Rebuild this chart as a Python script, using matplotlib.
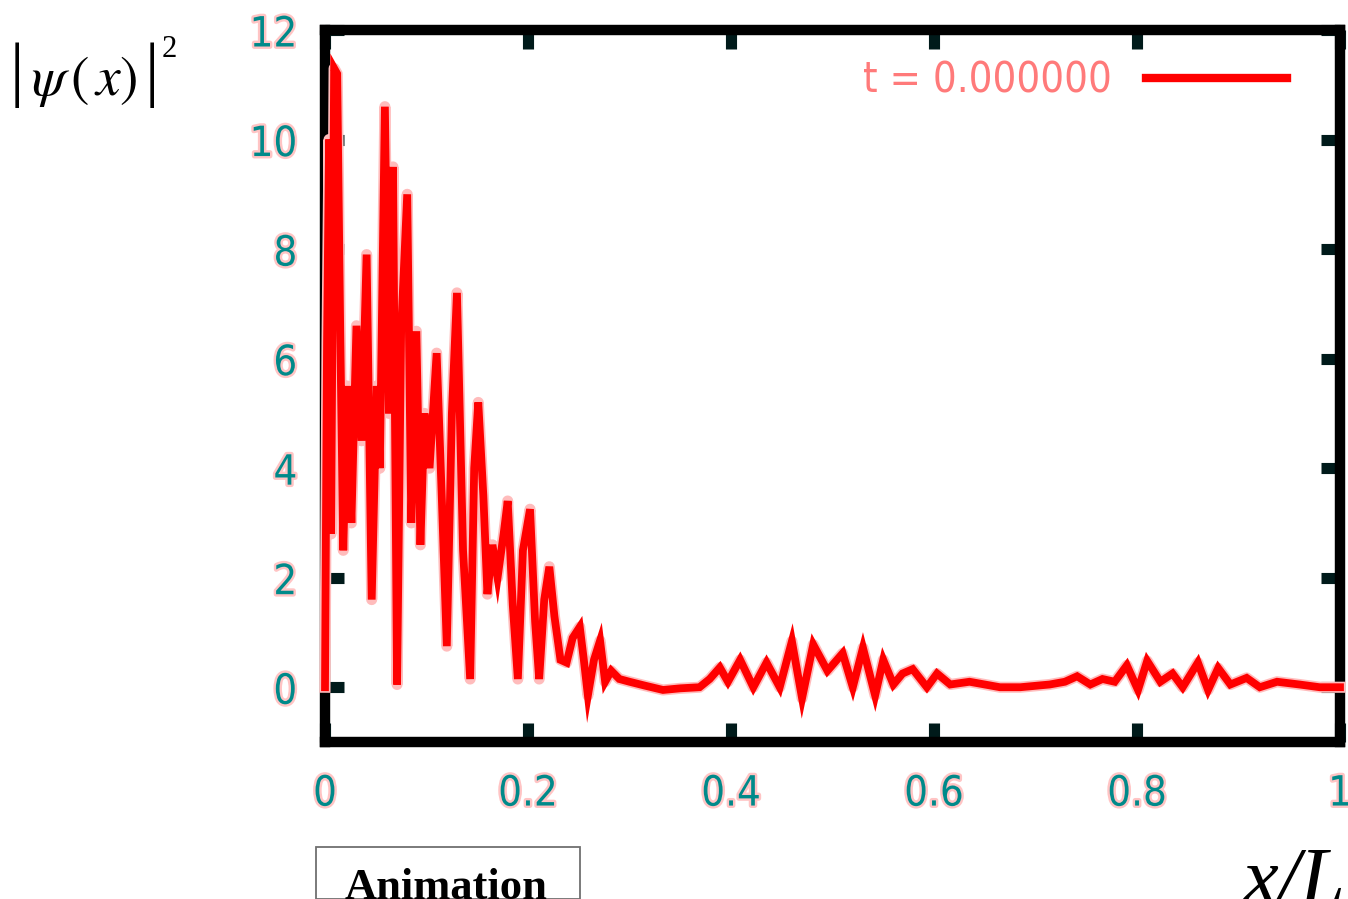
import matplotlib
matplotlib.use("Agg")
import matplotlib.pyplot as plt
import matplotlib.patheffects as pe
from matplotlib.patches import Rectangle

# ---- data ----
x_vals = [0.000, 0.002, 0.004, 0.006, 0.009, 0.012, 0.015, 0.018, 0.022, 0.026,
          0.031, 0.036, 0.041, 0.046, 0.051, 0.054, 0.059, 0.063, 0.067, 0.071,
          0.075, 0.081, 0.085, 0.090, 0.094, 0.098, 0.103, 0.110, 0.115, 0.120,
          0.125, 0.130, 0.136, 0.143, 0.147, 0.151, 0.156, 0.160, 0.165, 0.170,
          0.176, 0.180, 0.185, 0.190, 0.195, 0.202, 0.207, 0.211, 0.216, 0.221,
          0.226, 0.232, 0.238, 0.244, 0.251, 0.255, 0.259, 0.265, 0.271, 0.276,
          0.282, 0.290, 0.300, 0.315, 0.333, 0.350, 0.369, 0.379, 0.389, 0.397,
          0.409, 0.422, 0.435, 0.448, 0.460, 0.470, 0.481, 0.495, 0.510, 0.520,
          0.530, 0.542, 0.550, 0.560, 0.569, 0.579, 0.593, 0.603, 0.616, 0.635,
          0.665, 0.685, 0.714, 0.729, 0.741, 0.754, 0.766, 0.778, 0.790, 0.801,
          0.810, 0.823, 0.835, 0.845, 0.860, 0.870, 0.880, 0.892, 0.908, 0.921,
          0.938, 0.960, 0.980, 1.000]
psi2_vals = [0.0, 6.3, 10.0, 2.8, 11.3, 11.2, 6.5, 2.5, 5.5, 3.0,
             6.6, 4.5, 7.9, 1.6, 5.5, 4.0, 10.6, 5.0, 9.5, 0.05,
             6.5, 9.0, 3.0, 6.5, 2.6, 5.0, 4.0, 6.1, 3.5, 0.75,
             5.0, 7.2, 2.5, 0.15, 4.0, 5.2, 3.5, 1.7, 2.6, 2.0,
             2.8, 3.4, 1.5, 0.15, 2.5, 3.25, 1.2, 0.15, 1.6, 2.2,
             1.3, 0.5, 0.45, 0.9, 1.1, 0.5, -0.15, 0.5, 0.85, 0.1,
             0.3, 0.15, 0.1, 0.03, -0.05, -0.02, 0.0, 0.15, 0.36, 0.1,
             0.5, 0.0, 0.45, 0.0, 0.84, -0.2, 0.78, 0.3, 0.62, 0.0,
             0.72, -0.15, 0.5, 0.05, 0.25, 0.33, 0.0, 0.25, 0.05, 0.1,
             0.0, 0.0, 0.05, 0.1, 0.2, 0.05, 0.15, 0.1, 0.4, -0.05,
             0.48, 0.1, 0.25, 0.0, 0.45, -0.05, 0.35, 0.05, 0.17, 0.0,
             0.1, 0.05, 0.0, 0.0]

x_ticks = [0, 0.2, 0.4, 0.6, 0.8, 1]
x_tick_labels = ["0", "0.2", "0.4", "0.6", "0.8", "1"]
y_ticks = [0, 2, 4, 6, 8, 10, 12]
y_tick_labels = ["0", "2", "4", "6", "8", "10", "12"]
legend_label = "t = 0.000000"

# ---- figure ----
W, H = 1348, 899
fig = plt.figure(figsize=(W / 100, H / 100), dpi=100)
fig.patch.set_facecolor("white")
ax = fig.add_axes([325 / W, 1 - 742 / H, (1340 - 325) / W, (742 - 30) / H])

teal = "#008a8a"
halo = [pe.withStroke(linewidth=3.5, foreground="#ffc4c4")]

line, = ax.plot(x_vals, psi2_vals, color="#ff0000", lw=5.6, zorder=3,
                solid_joinstyle="miter", clip_on=False, label=legend_label,
                path_effects=[pe.Stroke(linewidth=8, foreground="#ffbcbc",
                                        joinstyle="round"),
                              pe.Normal()])

ax.set_xlim(0, 1)
ax.set_ylim(-1, 12)
ax.set_xticks(x_ticks)
ax.set_xticklabels(x_tick_labels)
ax.set_yticks(y_ticks)
ax.set_yticklabels(y_tick_labels)

for s in ax.spines.values():
    s.set_linewidth(7.5)
    s.set_color("#000000")
    s.set_zorder(2.5)

ax.tick_params(axis="both", which="major", direction="in", length=14, width=8,
               color="#001a1a", top=True, right=True, labelsize=30,
               labelcolor=teal)
ax.tick_params(axis="y", pad=20)
ax.tick_params(axis="x", pad=22)
for lab in ax.get_xticklabels() + ax.get_yticklabels():
    lab.set_family(["DejaVu Sans"])
    lab.set_stretch("condensed")
    lab.set_path_effects(halo)

leg = ax.legend(loc="upper right", bbox_to_anchor=(0.948, 0.958), frameon=False,
                markerfirst=False, handlelength=3.4, handletextpad=0.8,
                borderaxespad=0, borderpad=0, fontsize=30, labelcolor="#ff7a7a")
for t in leg.get_texts():
    t.set_family(["DejaVu Sans"])
    t.set_stretch("condensed")
for h in leg.get_lines():
    h.set_linewidth(6)
    h.set_path_effects([])

# ---- annotations around the plot ----
fig.text(10 / W, 1 - 93 / H, "|", fontsize=52, family=["Liberation Serif"],
         ha="left", va="baseline", color="black")
fig.text(31 / W, 1 - 95 / H, r"$\psi\,(\,x)$", fontsize=40,
         math_fontfamily="stix", ha="left", va="baseline", color="black")
fig.text(145 / W, 1 - 93 / H, "|", fontsize=52, family=["Liberation Serif"],
         ha="left", va="baseline", color="black")
fig.text(162 / W, 1 - 57 / H, "2", fontsize=22, family=["Liberation Serif"],
         ha="left", va="baseline", color="black")
fig.text(1243 / W, 1 - 903 / H, "x/L", fontsize=58, family=["Liberation Serif"],
         style="italic", ha="left", va="baseline", color="black")

fig.patches.append(Rectangle((316 / W, 0), (580 - 316) / W, (899 - 847) / H,
                             transform=fig.transFigure, facecolor="white",
                             edgecolor="#707070", linewidth=1.3))
fig.text(345 / W, 1 - 899 / H, "Animation", fontsize=32, family=["Liberation Serif"],
         weight="bold", ha="left", va="baseline", color="black")

fig.savefig("out.png", dpi=100, facecolor="white")
